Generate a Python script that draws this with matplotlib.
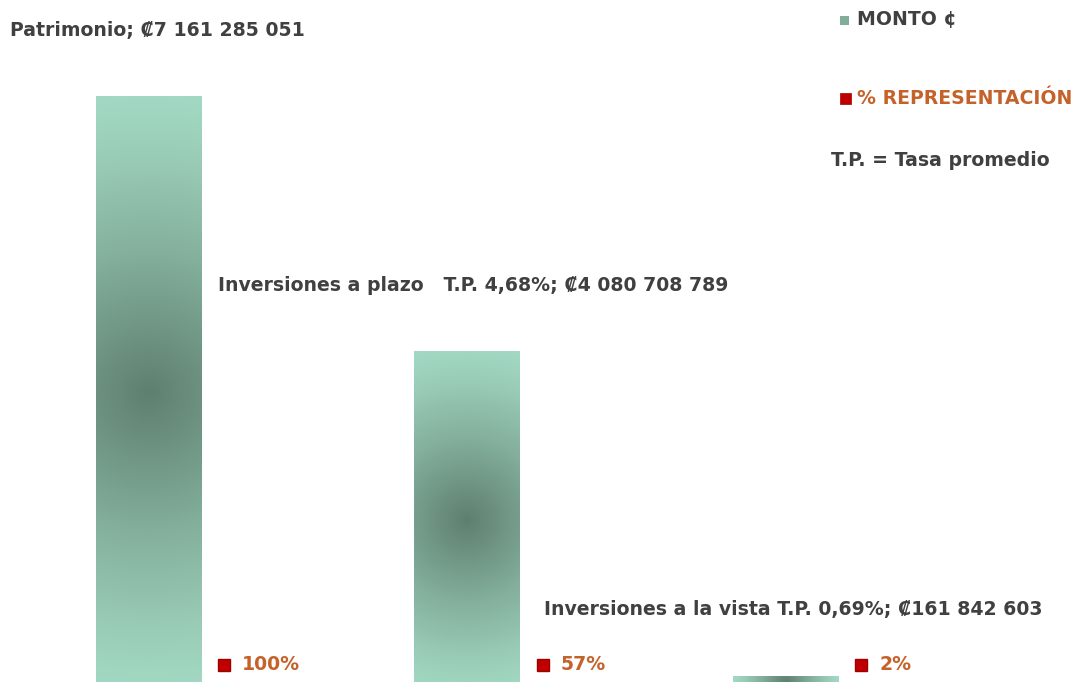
import matplotlib.pyplot as plt
import numpy as np
from matplotlib.colors import LinearSegmentedColormap
from matplotlib.patches import Rectangle
from matplotlib.transforms import offset_copy

plt.rcParams['font.family'] = ['DejaVu Sans']
plt.rcParams['font.weight'] = 'bold'

# data
categories = ['Patrimonio', 'Inversiones a plazo   T.P. 4,68%', 'Inversiones a la vista T.P. 0,69%']
monto = [7161285051, 4080708789, 161842603]
monto_txt = ['7 161 285 051', '4 080 708 789', '161 842 603']
representacion = [100, 57, 2]

gray = '#404040'
orange = '#C5622A'
red = '#C00000'
fs = 13.6

fig = plt.figure(figsize=(10.78, 6.82), dpi=100)
ax = fig.add_axes([0, -7 / 682, 1, 689 / 682])
ax.set_xlim(-0.466, 2.918)
ax.set_ylim(0, 8.323e9)
ax.axis('off')

x = np.arange(len(categories))
bars = ax.bar(x, monto, width=0.33, facecolor='none', edgecolor='none')

# radial gradient (circle over the bar, in pixel space) inside each bar
cmap = LinearSegmentedColormap.from_list('g', [(0, '#5F8070'), (0.2, '#6F9484'), (0.47, '#84B09D'),
                                               (0.8, '#9ACDB8'), (1, '#A3D9C4')])
for b in bars:
    x0, w, h = b.get_x(), b.get_width(), b.get_height()
    (px0, py0), (px1, py1) = ax.transData.transform([(x0, 0), (x0 + w, h)])
    hw, hh = (px1 - px0) / 2, (py1 - py0) / 2
    gx, gy = np.meshgrid(np.linspace(-hw, hw, 80), np.linspace(-hh, hh, 300))
    grad = np.clip(np.hypot(gx, gy) / np.hypot(hw, hh), 0, 1)
    im = ax.imshow(grad, cmap=cmap, extent=[x0, x0 + w, 0, h], aspect='auto',
                   interpolation='bilinear', origin='lower', zorder=2)
    im.set_clip_path(b)

# monto labels
label_x = [-0.435, 0.218, 1.242]
for i, b in enumerate(bars):
    ax.annotate(categories[i] + '; \u20a1' + monto_txt[i], xy=(label_x[i], b.get_height()),
                xytext=(0, 66), textcoords='offset pixels', ha='left', va='center',
                fontsize=fs, color=gray)

# % representacion labels
for i, v in enumerate(representacion):
    t1 = offset_copy(ax.transData, fig, x=75.5, y=24, units='dots')
    ax.plot(x[i], 0, marker='s', ms=8.5, color=red, mec='#A00000', transform=t1, clip_on=False)
    t2 = offset_copy(ax.transData, fig, x=93.5, y=24, units='dots')
    ax.text(x[i], 0, f'{v}%', transform=t2, ha='left', va='center', fontsize=fs, color=orange)

# legend
fig.patches.append(Rectangle((840 / 1078, 1 - 25 / 682), 9 / 1078, 9 / 682,
                             transform=fig.transFigure, facecolor='#7FAE9B', edgecolor='none'))
fig.text(857 / 1078, 1 - 20 / 682, 'MONTO \u00a2', ha='left', va='center', fontsize=fs, color=gray)
fig.patches.append(Rectangle((840 / 1078, 1 - 104 / 682), 11 / 1078, 11 / 682,
                             transform=fig.transFigure, facecolor=red, edgecolor='#A00000', lw=0.5))
fig.text(857 / 1078, 1 - 99 / 682, '% REPRESENTACI\u00d3N', ha='left', va='center', fontsize=fs, color=orange)
fig.text(831 / 1078, 1 - 160 / 682, 'T.P. = Tasa promedio', ha='left', va='center', fontsize=fs, color=gray)

fig.savefig('out.png', dpi=100, facecolor='white')
